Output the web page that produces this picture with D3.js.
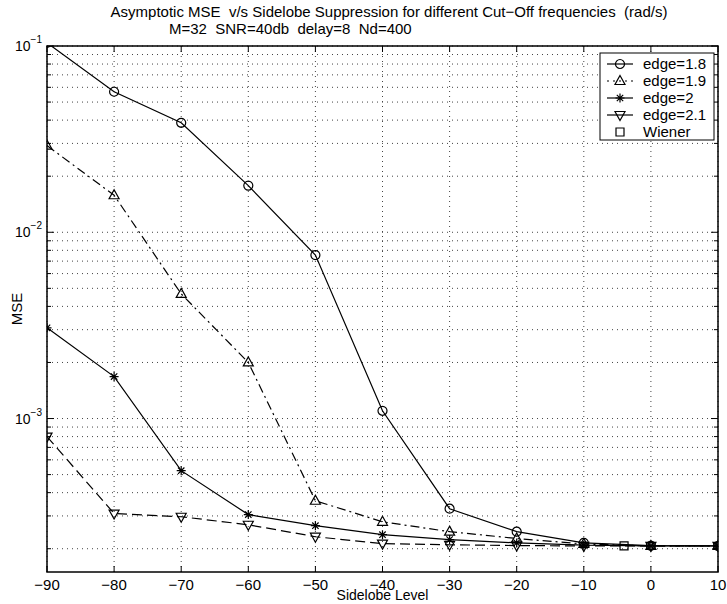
<!DOCTYPE html>
<html>
<head>
<meta charset="utf-8">
<script src="https://cdn.jsdelivr.net/npm/d3@7"></script>
<style>
  body { margin: 0; background: #fff; }
  text { font-family: "Liberation Sans", Arial, Helvetica, sans-serif; fill: #000; }
</style>
</head>
<body>
<div id="chart"></div>
<script>
// values
var sidelobe = [-90, -80, -70, -60, -50, -40, -30, -20, -10, 0, 10];
var edge18 = [0.104, 0.0568, 0.0387, 0.0178, 0.00754, 0.0011, 3.28e-4, 2.47e-4, 2.15e-4, 2.08e-4, 2.07e-4];
var edge19 = [0.0292, 0.0158, 0.00467, 0.0020, 3.62e-4, 2.79e-4, 2.47e-4, 2.27e-4, 2.12e-4, 2.07e-4, 2.07e-4];
var edge2 = [3.07e-3, 1.68e-3, 5.25e-4, 3.05e-4, 2.66e-4, 2.38e-4, 2.24e-4, 2.15e-4, 2.09e-4, 2.07e-4, 2.07e-4];
var edge21 = [8.0e-4, 3.09e-4, 2.97e-4, 2.69e-4, 2.32e-4, 2.13e-4, 2.10e-4, 2.08e-4, 2.07e-4, 2.07e-4, 2.07e-4];
var wienerX = [-4];
var wienerY = [2.07e-4];
var xTicks = [-90, -80, -70, -60, -50, -40, -30, -20, -10, 0, 10];
var yDecades = [1e-3, 1e-2, 1e-1];
var yDecadeLabels = ["-3", "-2", "-1"];
var seriesNames = ["edge=1.8", "edge=1.9", "edge=2", "edge=2.1", "Wiener"];

var W = 727, H = 604;
var margin = { top: 46, right: 9, bottom: 32, left: 47 };
var width = W - margin.left - margin.right,
  height = H - margin.top - margin.bottom;

var svg = d3.select("#chart").append("svg")
  .attr("width", W)
  .attr("height", H);

var x = d3.scaleLinear().domain([-90, 10]).range([0, width]);
var y = d3.scaleLog().domain([1.5e-4, 0.1]).range([height, 0]);

var g = svg.append("g")
  .attr("transform", "translate(" + margin.left + "," + margin.top + ")");

// minor values for log grid
var minorVals = [];
[1e-4, 1e-3, 1e-2].forEach(function(dec) {
  for (var k = 1; k <= 9; k++) {
    var v = dec * k;
    if (v >= 1.5e-4 && v <= 0.1) minorVals.push(v);
  }
});
minorVals.push(0.1);

// grid
var grid = g.append("g")
  .attr("stroke", "#444")
  .attr("stroke-width", 1)
  .attr("stroke-dasharray", "1,4");
grid.selectAll(".hg").data(minorVals).enter().append("line")
  .attr("x1", 0).attr("x2", width)
  .attr("y1", function(d) { return y(d); })
  .attr("y2", function(d) { return y(d); });
grid.selectAll(".vg").data(xTicks).enter().append("line")
  .attr("y1", 0).attr("y2", height)
  .attr("x1", function(d) { return x(d); })
  .attr("x2", function(d) { return x(d); });

// ticks (inward, all four sides)
var ticks = g.append("g").attr("stroke", "#000").attr("stroke-width", 1);
xTicks.forEach(function(t) {
  ticks.append("line").attr("x1", x(t)).attr("x2", x(t)).attr("y1", height).attr("y2", height - 6);
  ticks.append("line").attr("x1", x(t)).attr("x2", x(t)).attr("y1", 0).attr("y2", 6);
});
minorVals.forEach(function(v) {
  var major = yDecades.indexOf(v) >= 0;
  var len = major ? 7 : 4;
  ticks.append("line").attr("x1", 0).attr("x2", len).attr("y1", y(v)).attr("y2", y(v));
  ticks.append("line").attr("x1", width).attr("x2", width - len).attr("y1", y(v)).attr("y2", y(v));
});

// box
g.append("rect")
  .attr("width", width).attr("height", height)
  .attr("fill", "none").attr("stroke", "#000").attr("stroke-width", 1.5);

// x tick labels
g.selectAll(".xl").data(xTicks).enter().append("text")
  .attr("x", function(d) { return x(d); })
  .attr("y", height + 18)
  .attr("text-anchor", "middle")
  .style("font-size", "15px")
  .text(function(d) { return d < 0 ? "\u2212" + Math.abs(d) : d; });

// y tick labels
yDecades.forEach(function(v, i) {
  var t = g.append("text")
    .attr("x", -5)
    .attr("y", y(v) + 5)
    .attr("text-anchor", "end")
    .style("font-size", "14px");
  t.append("tspan").text("10");
  t.append("tspan")
    .attr("dy", -8)
    .style("font-size", "10px")
    .text("\u2212" + yDecadeLabels[i].replace("-", ""));
});

// axis labels
svg.append("text")
  .attr("x", margin.left + width / 2)
  .attr("y", 600)
  .attr("text-anchor", "middle")
  .style("font-size", "14px")
  .text("Sidelobe Level");
svg.append("text")
  .attr("transform", "translate(22," + (margin.top + height / 2) + ") rotate(-90)")
  .attr("text-anchor", "middle")
  .style("font-size", "15px")
  .text("MSE");

// title
svg.append("text")
  .attr("x", 389).attr("y", 17)
  .attr("text-anchor", "middle")
  .style("font-size", "15px")
  .attr("xml:space", "preserve")
  .text("Asymptotic MSE  v/s Sidelobe Suppression for different Cut\u2212Off frequencies  (rad/s)");
svg.append("text")
  .attr("x", 169).attr("y", 34)
  .style("font-size", "15px")
  .attr("xml:space", "preserve")
  .text("M=32  SNR=40db  delay=8  Nd=400");

// clip
svg.append("defs").append("clipPath").attr("id", "clip")
  .append("rect").attr("width", width).attr("height", height);

var plot = g.append("g").attr("clip-path", "url(#clip)");

// marker paths
function markerPath(type) {
  if (type === "circle") return d3.symbol().type(d3.symbolCircle).size(64)();
  if (type === "tri") return "M0,-5.5L5,3.5L-5,3.5Z";
  if (type === "tridown") return "M0,5.5L5,-3.5L-5,-3.5Z";
  if (type === "square") return "M-4,-4H4V4H-4Z";
  if (type === "star") return "M-4.5,0H4.5M0,-4.5V4.5M-3.2,-3.2L3.2,3.2M-3.2,3.2L3.2,-3.2";
}

var series = [
  { name: seriesNames[0], vals: edge18, dash: null, marker: "circle" },
  { name: seriesNames[1], vals: edge19, dash: "9,4,2,4", marker: "tri" },
  { name: seriesNames[2], vals: edge2, dash: null, marker: "star" },
  { name: seriesNames[3], vals: edge21, dash: "10,5", marker: "tridown" }
];

var line = d3.line()
  .x(function(d) { return x(d[0]); })
  .y(function(d) { return y(d[1]); });

series.forEach(function(s) {
  var pts = sidelobe.map(function(v, i) { return [v, s.vals[i]]; });
  plot.append("path")
    .datum(pts)
    .attr("fill", "none")
    .attr("stroke", "#000")
    .attr("stroke-width", 1.2)
    .attr("stroke-dasharray", s.dash)
    .attr("d", line);
  plot.selectAll(null).data(pts).enter().append("path")
    .attr("transform", function(d) { return "translate(" + x(d[0]) + "," + y(d[1]) + ")"; })
    .attr("d", markerPath(s.marker))
    .attr("fill", "none")
    .attr("stroke", "#000")
    .attr("stroke-width", 1.2);
});

// wiener point
plot.selectAll(null).data(wienerX).enter().append("path")
  .attr("transform", function(d, i) { return "translate(" + x(d) + "," + y(wienerY[i]) + ")"; })
  .attr("d", markerPath("square"))
  .attr("fill", "none")
  .attr("stroke", "#000")
  .attr("stroke-width", 1.2);

// legend
var lg = svg.append("g").attr("transform", "translate(600,53)");
lg.append("rect")
  .attr("width", 114).attr("height", 87)
  .attr("fill", "#fff").attr("stroke", "#000").attr("stroke-width", 1);
var legendItems = series.concat([{ name: seriesNames[4], dash: null, marker: "square", noLine: true }]);
legendItems.forEach(function(s, i) {
  var yy = 11 + i * 17;
  if (!s.noLine) {
    lg.append("line")
      .attr("x1", 7).attr("x2", 33).attr("y1", yy).attr("y2", yy)
      .attr("stroke", "#000").attr("stroke-width", 1.2)
      .attr("stroke-dasharray", s.dash === "9,4,2,4" ? "2,4" : null);
  }
  lg.append("path")
    .attr("transform", "translate(20," + yy + ")")
    .attr("d", markerPath(s.marker))
    .attr("fill", "none").attr("stroke", "#000").attr("stroke-width", 1.2);
  lg.append("text")
    .attr("x", 43).attr("y", yy + 5)
    .style("font-size", "15px")
    .text(s.name);
});
</script>
</body>
</html>
